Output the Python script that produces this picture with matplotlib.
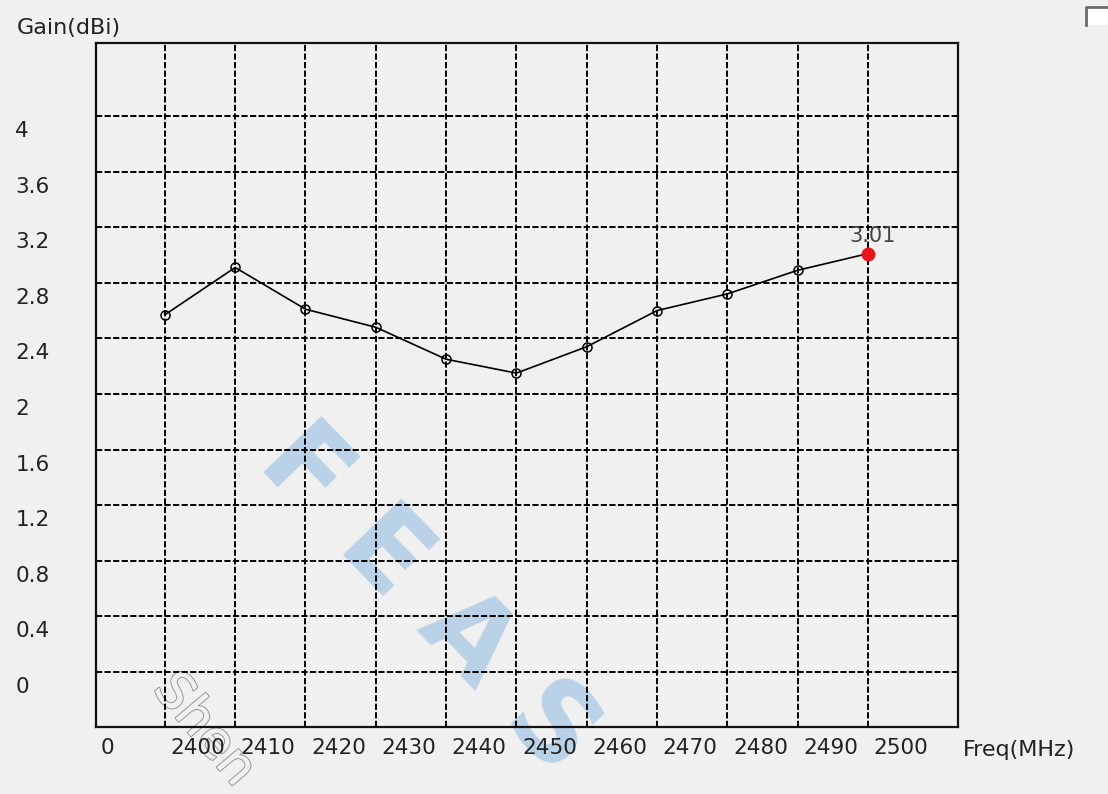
#!/usr/bin/env python3
"""Gain vs frequency chart, in the style of an antenna test-software screen."""

import matplotlib
matplotlib.use("Agg")
import matplotlib.pyplot as plt
import matplotlib.patheffects as pe
from matplotlib.patches import Rectangle
from matplotlib.lines import Line2D

# data
freqs = [2400, 2410, 2420, 2430, 2440, 2450, 2460, 2470, 2480, 2490, 2500]
gain = [2.57, 2.91, 2.61, 2.48, 2.25, 2.15, 2.34, 2.60, 2.72, 2.89, 3.01]
y_grid = [0, 0.4, 0.8, 1.2, 1.6, 2, 2.4, 2.8, 3.2, 3.6, 4]
y_labels = ["0", "0.4", "0.8", "1.2", "1.6", "2", "2.4", "2.8", "3.2", "3.6", "4"]
x_labels = ["0"] + [str(f) for f in freqs]
marker_label = "3.01"

BG = "#f0f0f0"
TXT = "#222222"
plt.rcParams["font.family"] = ["DejaVu Sans"]

fig = plt.figure(figsize=(11.08, 7.94), dpi=100, facecolor=BG)
ax = fig.add_axes([0.0866, 0.0844, 0.778, 0.8614])
ax.set_facecolor("none")
ax.set_zorder(1)

ax.set_xlim(2390.2, 2512.8)
ax.set_ylim(-0.396, 4.525)

# grid lines sit on the major ticks, labels live on minor ticks (offset like the original)
ax.set_xticks(freqs)
ax.set_xticklabels([])
ax.set_yticks(y_grid)
ax.set_yticklabels([])
ax.set_xticks([2391.8] + [f + 4.7 for f in freqs], minor=True)
ax.set_xticklabels(x_labels, minor=True)
ax.set_yticks([v - 0.094 for v in y_grid], minor=True)
ax.set_yticklabels(y_labels, minor=True)
ax.tick_params(which="both", length=0, labelsize=15.5, colors=TXT)
ax.tick_params(axis="x", which="minor", pad=8)
ax.tick_params(axis="y", which="minor", pad=58)
for lab in ax.get_yticklabels(minor=True):
    lab.set_horizontalalignment("left")

ax.grid(True, which="major", color="black", linestyle=(0, (3.2, 1.2)), linewidth=1.4)
for sp in ax.spines.values():
    sp.set_linewidth(1.6)
    sp.set_color("#111111")

# the curve: hollow markers, last point highlighted in red
ax.plot(freqs, gain, color="black", linewidth=1.2, marker="o", markersize=6.5,
        markerfacecolor="none", markeredgecolor="black", markeredgewidth=1.1, zorder=3)
ax.plot(freqs[-1], gain[-1], "o", color="#e8141c", markersize=9, zorder=4)
ax.annotate(marker_label, (freqs[-1], gain[-1]), xytext=(3, 13), textcoords="offset points",
            ha="center", va="center", fontsize=15, color="#444444", zorder=5)

fig.text(17 / 1108, 1 - 28 / 794, "Gain(dBi)", fontsize=16, color=TXT,
         ha="left", va="center")
fig.text(963 / 1108, 1 - 750 / 794, "Freq(MHz)", fontsize=16, color=TXT,
         ha="left", va="center")

# faint watermark, behind the grid
fig.text(428 / 1108, 1 - 600 / 794, "F E A S", fontsize=80, fontweight="bold",
         color="#b4cfe6", alpha=0.9, rotation=-46, rotation_mode="anchor",
         ha="center", va="center", zorder=0)
wm = fig.text(204 / 1108, 1 - 730 / 794, "Shen", fontsize=37, color=BG,
              rotation=-50, rotation_mode="anchor", ha="center", va="center", zorder=0)
wm.set_path_effects([pe.withStroke(linewidth=1.5, foreground="#8f8f8f"), pe.Normal()])

# the little checkbox in the top-right corner of the window
fig.patches.append(Rectangle((1085 / 1108, 1 - 25 / 794), 30 / 1108, 18 / 794,
                             transform=fig.transFigure, facecolor="white",
                             edgecolor="none", zorder=1))
fig.lines.append(Line2D([1086 / 1108, 1086 / 1108, 1108 / 1108],
                        [1 - 25 / 794, 1 - 7 / 794, 1 - 7 / 794],
                        transform=fig.transFigure, color="#6a6a6a", linewidth=2))

fig.savefig("out.png", dpi=100, facecolor=BG)
